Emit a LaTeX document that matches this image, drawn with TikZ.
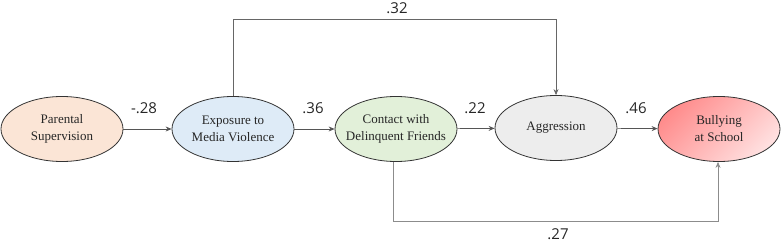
\documentclass[tikz,border=0pt]{standalone}
\usepackage{fontspec}
\setmainfont{Liberation Serif}
\newfontfamily\labfont{Open Sans}
\usetikzlibrary{shapes.geometric,arrows.meta}
\definecolor{peach}{HTML}{FBE5D6}
\definecolor{lblue}{HTML}{DEEBF7}
\definecolor{lgreen}{HTML}{E2F0D9}
\definecolor{lgray}{HTML}{EDEDED}
\definecolor{edgec}{HTML}{555555}
\begin{document}
\begin{tikzpicture}[x=1pt,y=-1pt,
  var/.style={ellipse,draw=black!80,line width=0.8pt,minimum width=122pt,minimum height=65pt,inner ysep=0pt,inner xsep=-14pt,align=center,font=\fontsize{13}{17}\selectfont,text=black!85},
  path/.style={draw=edgec,line width=0.7pt,-{Stealth[length=6pt,width=5pt]}},
  coef/.style={font=\labfont\fontsize{15}{18}\selectfont,text=black!85}]
\useasboundingbox (0,0) rectangle (781,243);
\node[var,fill=peach] (ps) at (62,129) {Parental\\Supervision};
\node[var,fill=lblue] (em) at (233,129) {Exposure to\\Media Violence};
\node[var,fill=lgreen] (cd) at (396,129) {Contact with\\Delinquent Friends};
\node[var,fill=lgray] (ag) at (556,128) {Aggression};
\node[var,top color=red!45,bottom color=red!12,shading angle=45] (bs) at (719,129) {Bullying\\at School};
\draw[path] (ps) -- (em);
\draw[path] (em) -- (cd);
\draw[path] (cd) -- (ag);
\draw[path] (ag) -- (bs);
\coordinate (t1) at (em.north |- 0,19);
\coordinate (t2) at (ag.north |- 0,19);
\draw[path,draw=black!60] (em.north) -- (t1) -- (t2) -- (ag.north);
\coordinate (b1) at (393,221);
\coordinate (b2) at (718,221);
\draw[path,draw=black!45] (b1 |- cd.south) -- (b1) -- (b2) -- (b2 |- bs.south);
\node[coef] (l1) at (144,108) {-.28};
\node[coef] (l2) at (313,108) {.36};
\node[coef] (l3) at (475,108) {.22};
\node[coef] (l4) at (636,108) {.46};
\node[coef] (l5) at (397,8) {.32};
\node[coef] (l6) at (558,234) {.27};
\end{tikzpicture}
\end{document}
